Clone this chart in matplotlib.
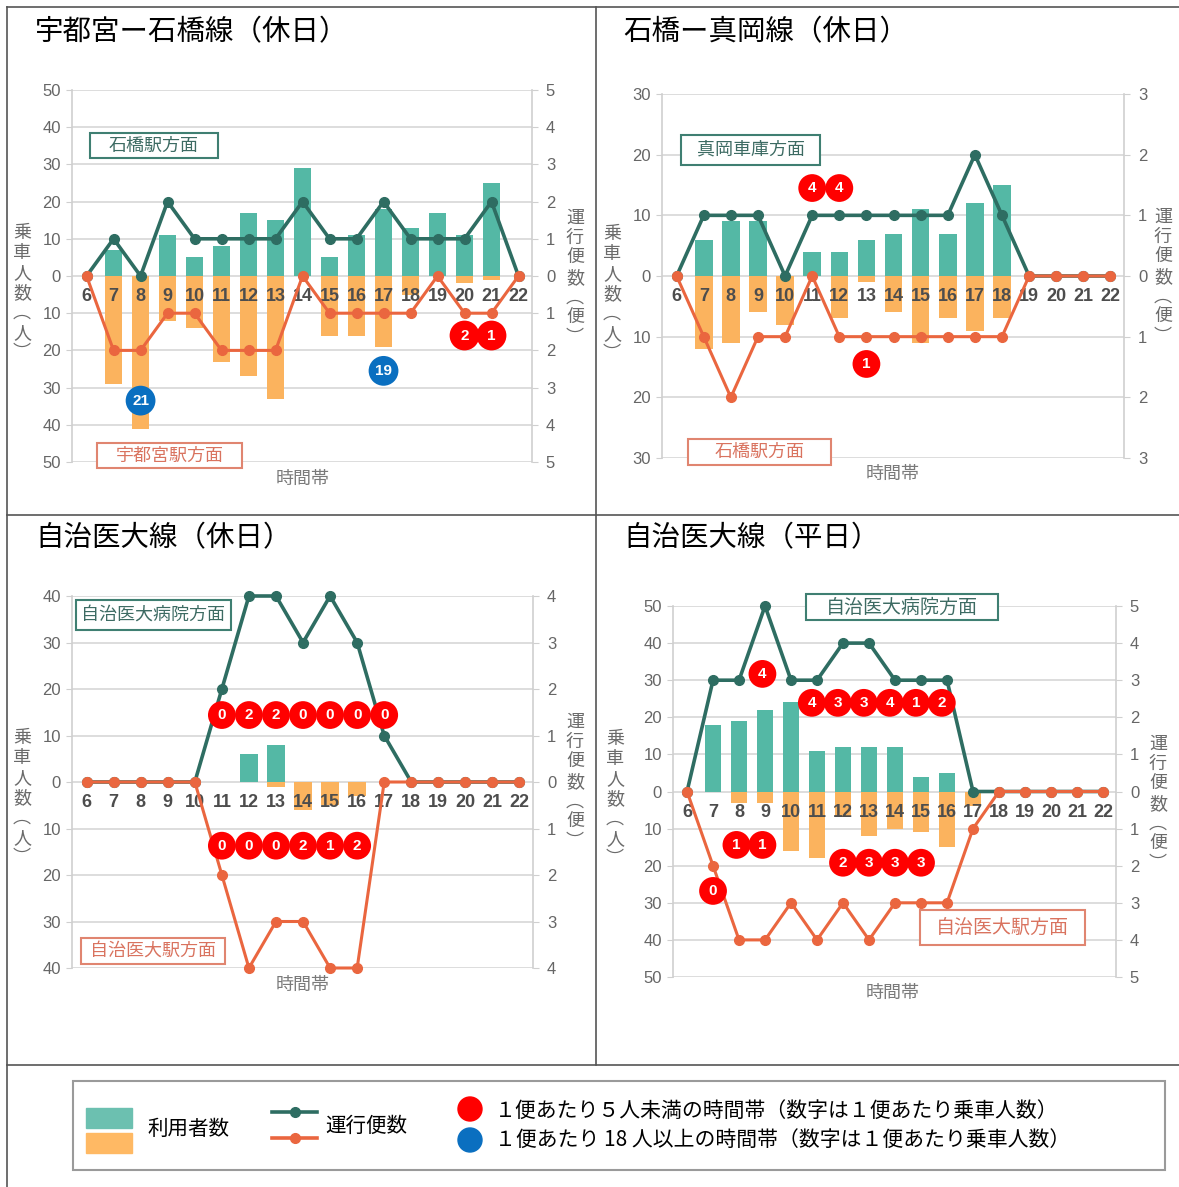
import matplotlib
matplotlib.use("Agg")
import matplotlib.pyplot as plt
from matplotlib.patches import Rectangle, Circle
from matplotlib.ticker import FuncFormatter

plt.rcParams['font.family'] = ['Noto Sans CJK JP', 'DejaVu Sans']

W, H = 1179, 1187

TEAL_BAR = '#54b8a5'
ORANGE_BAR = '#fbb35e'
TEAL_LINE = '#2e6d62'
ORANGE_LINE = '#ea663f'
RED = '#ff0000'
BLUE = '#0a6fc0'
GRID = '#dadada'

hours = list(range(6, 23))

# ------ 宇都宮ー石橋線（休日） ------
p1_riders_up = [0, 7, 0, 11, 5, 8, 17, 15, 29, 5, 11, 18, 13, 17, 11, 25, 0]
p1_riders_down = [0, 29, 41, 12, 14, 23, 27, 33, 0, 16, 16, 19, 5, 0, 2, 1, 0]
p1_trips_up = [0, 1, 0, 2, 1, 1, 1, 1, 2, 1, 1, 2, 1, 1, 1, 2, 0]
p1_trips_down = [0, 2, 2, 1, 1, 2, 2, 2, 0, 1, 1, 1, 1, 0, 1, 1, 0]
p1_mark_hours = [8, 17, 20, 21]
p1_mark_text = ['21', '19', '2', '1']
p1_mark_kind = ['blue', 'blue', 'red', 'red']
p1_mark_y = [-33.5, -25.5, -16, -16]

# ------ 石橋ー真岡線（休日） ------
p2_riders_up = [0, 6, 9, 9, 0, 4, 4, 6, 7, 11, 7, 12, 15, 0, 0, 0, 0]
p2_riders_down = [0, 12, 11, 6, 8, 0, 7, 1, 6, 11, 7, 9, 7, 0, 0, 0, 0]
p2_trips_up = [0, 1, 1, 1, 0, 1, 1, 1, 1, 1, 1, 2, 1, 0, 0, 0, 0]
p2_trips_down = [0, 1, 2, 1, 1, 0, 1, 1, 1, 1, 1, 1, 1, 0, 0, 0, 0]
p2_mark_hours = [11, 12, 13]
p2_mark_text = ['4', '4', '1']
p2_mark_kind = ['red', 'red', 'red']
p2_mark_y = [14.5, 14.5, -14.5]

# ------ 自治医大線（休日） ------
p3_riders_up = [0, 0, 0, 0, 0, 0, 6, 8, 0, 0, 0, 0, 0, 0, 0, 0, 0]
p3_riders_down = [0, 0, 0, 0, 0, 0, 0, 1, 6, 5, 3, 0, 0, 0, 0, 0, 0]
p3_trips_up = [0, 0, 0, 0, 0, 2, 4, 4, 3, 4, 3, 1, 0, 0, 0, 0, 0]
p3_trips_down = [0, 0, 0, 0, 0, 2, 4, 3, 3, 4, 4, 0, 0, 0, 0, 0, 0]
p3_mark_hours = [11, 12, 13, 14, 15, 16, 17, 11, 12, 13, 14, 15, 16]
p3_mark_text = ['0', '2', '2', '0', '0', '0', '0', '0', '0', '0', '2', '1', '2']
p3_mark_kind = ['red'] * 13
p3_mark_y = [14.4] * 7 + [-13.7] * 6

# ------ 自治医大線（平日） ------
p4_riders_up = [0, 18, 19, 22, 24, 11, 12, 12, 12, 4, 5, 0, 0, 0, 0, 0, 0]
p4_riders_down = [0, 0, 3, 3, 16, 18, 7, 12, 10, 11, 15, 4, 0, 0, 0, 0, 0]
p4_trips_up = [0, 3, 3, 5, 3, 3, 4, 4, 3, 3, 3, 0, 0, 0, 0, 0, 0]
p4_trips_down = [0, 2, 4, 4, 3, 4, 3, 4, 3, 3, 3, 1, 0, 0, 0, 0, 0]
p4_mark_hours = [8.9, 10.8, 11.8, 12.8, 13.8, 14.8, 15.8, 7.9, 8.9, 7, 12, 13, 14, 15]
p4_mark_text = ['4', '4', '3', '3', '4', '1', '2', '1', '1', '0', '2', '3', '3', '3']
p4_mark_kind = ['red'] * 14
p4_mark_y = [31.7] + [23.9] * 6 + [-14.4, -14.4, -26.8] + [-19.2] * 4

fig = plt.figure(figsize=(W / 100, H / 100), dpi=100)


def fig_rect(x0, y0, x1, y1):
    return [x0 / W, 1 - y1 / H, (x1 - x0) / W, (y1 - y0) / H]


absfmt = FuncFormatter(lambda v, p: f'{abs(v):.0f}')


def draw_panel(rect, rmax, tmax, r_up, r_down, t_up, t_down,
               m_hours, m_text, m_kind, m_y, msize):
    ax = fig.add_axes(fig_rect(*rect))
    ax.bar(hours, r_up, width=0.65, color=TEAL_BAR, zorder=2)
    ax.bar(hours, [-v for v in r_down], width=0.65, color=ORANGE_BAR, zorder=2)
    ax.set_ylim(-rmax, rmax)
    ax.set_yticks(range(-rmax, rmax + 1, 10))
    ax.yaxis.set_major_formatter(absfmt)
    ax.yaxis.grid(True, color=GRID, lw=1.3)
    ax.set_axisbelow(True)
    ax.set_xticks([])
    for s in ['top', 'bottom', 'right']:
        ax.spines[s].set_visible(False)
    ax.spines['left'].set_color('#cfcfcf')
    ax.spines['left'].set_linewidth(1.2)
    ax.tick_params(axis='y', length=4, color='#cfcfcf', labelcolor='#666666',
                   labelsize=12, pad=4, labelfontfamily='Liberation Sans')
    for h in hours:
        ax.annotate(str(h), (h, 0), xytext=(0, -15), textcoords='offset points',
                    ha='center', va='center', fontsize=13, fontweight='bold',
                    color='#4d4d4d', family='Liberation Sans', zorder=3)

    ax2 = ax.twinx()
    ax2.plot(hours, t_up, color=TEAL_LINE, lw=2.6, marker='o', ms=7, zorder=3,
             clip_on=False)
    ax2.plot(hours, [-v for v in t_down], color=ORANGE_LINE, lw=2.2, marker='o',
             ms=7, zorder=4, clip_on=False)
    ax2.set_ylim(-tmax, tmax)
    ax2.set_yticks(range(-tmax, tmax + 1))
    ax2.yaxis.set_major_formatter(absfmt)
    for s in ['top', 'bottom', 'left']:
        ax2.spines[s].set_visible(False)
    ax2.spines['right'].set_color('#cfcfcf')
    ax2.spines['right'].set_linewidth(1.2)
    ax2.tick_params(axis='y', length=4, color='#cfcfcf', labelcolor='#666666',
                    labelsize=12, pad=6, labelfontfamily='Liberation Sans')

    cols = [BLUE if k == 'blue' else RED for k in m_kind]
    ax2.scatter(m_hours, m_y, s=msize, c=cols, linewidths=0,
                transform=ax.transData, zorder=5)
    for x, y, t in zip(m_hours, m_y, m_text):
        ax2.text(x, y, t, transform=ax.transData, ha='center', va='center',
                 color='white', fontsize=11, fontweight='bold',
                 family='Liberation Sans', zorder=6)
    ax.set_xlim(5.46, 22.5)
    ax2.set_xlim(5.46, 22.5)
    return ax, ax2


draw_panel((72, 90, 532, 462), 50, 5, p1_riders_up, p1_riders_down,
           p1_trips_up, p1_trips_down, p1_mark_hours, p1_mark_text,
           p1_mark_kind, p1_mark_y, 460)
draw_panel((662, 94, 1124, 458), 30, 3, p2_riders_up, p2_riders_down,
           p2_trips_up, p2_trips_down, p2_mark_hours, p2_mark_text,
           p2_mark_kind, p2_mark_y, 400)
draw_panel((72, 596, 533, 968), 40, 4, p3_riders_up, p3_riders_down,
           p3_trips_up, p3_trips_down, p3_mark_hours, p3_mark_text,
           p3_mark_kind, p3_mark_y, 400)
draw_panel((673, 606, 1116, 977), 50, 5, p4_riders_up, p4_riders_down,
           p4_trips_up, p4_trips_down, p4_mark_hours, p4_mark_text,
           p4_mark_kind, p4_mark_y, 400)

# ------ overlay in pixel coordinates ------
ov = fig.add_axes([0, 0, 1, 1])
ov.set_xlim(0, W)
ov.set_ylim(H, 0)
ov.axis('off')

FRAME = '#555555'
for xs, ys in [([7, 7], [7, H]), ([7, W], [7, 7]), ([596, 596], [7, 1065]),
               ([7, W], [515, 515]), ([7, W], [1065, 1065])]:
    ov.plot(xs, ys, color=FRAME, lw=1.2)

titles = ['宇都宮ー石橋線（休日）', '石橋ー真岡線（休日）', '自治医大線（休日）', '自治医大線（平日）']
for (x, y), t in zip([(35, 32), (623, 32), (35, 538), (623, 538)], titles):
    ov.text(x, y, t, va='center', ha='left', fontsize=20.5, color='black')

left_lab = '乗\n車\n人\n数\n︵\n人\n︶'
right_lab = '運\n行\n便\n数\n︵\n便\n︶'
for x, y in [(22, 293), (612, 294), (22, 798), (615, 799)]:
    ov.text(x, y, left_lab, ha='center', va='center', multialignment='center',
            fontsize=13, color='#6b6b6b', linespacing=1.15)
for x, y in [(575, 278), (1163, 277), (575, 782), (1158, 804)]:
    ov.text(x, y, right_lab, ha='center', va='center', multialignment='center',
            fontsize=13, color='#6b6b6b', linespacing=1.15)

for x, y in [(303, 479), (893, 474), (303, 985), (893, 993)]:
    ov.text(x, y, '時間帯', ha='center', va='center', fontsize=13, color='#7a7a7a')


def box(x0, y0, x1, y1, text, ec, tc, fs):
    ov.add_patch(Rectangle((x0, y0), x1 - x0, y1 - y0, fc='white', ec=ec, lw=1.5))
    ov.text((x0 + x1) / 2, (y0 + y1) / 2, text, ha='center', va='center',
            fontsize=fs, color=tc)


T_EC, T_TC = '#3f7f72', '#3d6b63'
R_EC, R_TC = '#e08570', '#d9735f'
box(90, 133, 218, 158, '石橋駅方面', T_EC, T_TC, 13)
box(97, 443, 242, 468, '宇都宮駅方面', R_EC, R_TC, 13)
box(681, 135, 820, 165, '真岡車庫方面', T_EC, T_TC, 13)
box(688, 439, 831, 465, '石橋駅方面', R_EC, R_TC, 13)
box(76, 600, 231, 630, '自治医大病院方面', T_EC, T_TC, 13)
box(81, 938, 225, 964, '自治医大駅方面', R_EC, R_TC, 13)
box(806, 594, 998, 620, '自治医大病院方面', T_EC, T_TC, 13.7)
box(920, 910, 1085, 945, '自治医大駅方面', R_EC, R_TC, 13.7)

# ------ legend ------
ov.add_patch(Rectangle((73, 1081), 1092, 89, fill=False, ec='#9a9a9a', lw=1.5))
ov.add_patch(Rectangle((86, 1108), 46, 20, color='#6cc0b0'))
ov.add_patch(Rectangle((86, 1133), 46, 20, color='#ffb964'))
ov.text(147, 1129, '利用者数', va='center', ha='left', fontsize=14.8)
ov.plot([272, 295, 317], [1112] * 3, color=TEAL_LINE, lw=2.6, marker='o', ms=7,
        markevery=[1])
ov.plot([272, 295, 317], [1138] * 3, color=ORANGE_LINE, lw=2.6, marker='o', ms=7,
        markevery=[1])
ov.text(325, 1126, '運行便数', va='center', ha='left', fontsize=14.8)
ov.add_patch(Circle((470, 1109), 12, color=RED))
ov.add_patch(Circle((470, 1140), 12, color=BLUE))
ov.text(495, 1111, '１便あたり５人未満の時間帯（数字は１便あたり乗車人数）',
        va='center', ha='left', fontsize=15)
ov.text(495, 1140, '１便あたり 18 人以上の時間帯（数字は１便あたり乗車人数）',
        va='center', ha='left', fontsize=15)

fig.savefig('out.png', dpi=100)
